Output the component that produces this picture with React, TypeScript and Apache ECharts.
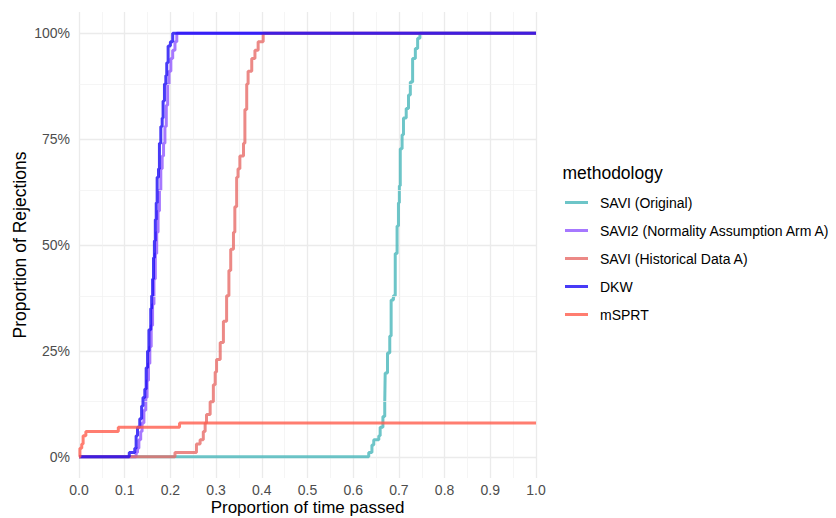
import React, { useEffect, useRef } from "react";
import * as echarts from "echarts";

// ---- data ----
const seriesNames = [
  "SAVI (Original)",
  "SAVI2 (Normality Assumption Arm A)",
  "SAVI (Historical Data A)",
  "DKW",
  "mSPRT",
];
const seriesColors = ["#48B7BA", "#9056FF", "#E76B68", "#1A0AF5", "#FF5C4C"];

const xTicks = [0, 0.1, 0.2, 0.3, 0.4, 0.5, 0.6, 0.7, 0.8, 0.9, 1.0];
const yTicks = [0, 0.25, 0.5, 0.75, 1];
const yMinorGrid = [0.125, 0.375, 0.625, 0.875];

// SAVI (Original)
const saviOriginalX = [0, 0.634, 0.641, 0.645, 0.656, 0.659, 0.665, 0.669, 0.67, 0.675, 0.68, 0.683, 0.688, 0.692, 0.696, 0.699, 0.701, 0.703, 0.707, 0.71, 0.716, 0.721, 0.725, 0.73, 0.736, 0.741, 0.746, 1.0];
const saviOriginalY = [0, 0.01, 0.028, 0.04, 0.05, 0.07, 0.095, 0.126, 0.198, 0.245, 0.285, 0.37, 0.38, 0.48, 0.545, 0.6, 0.64, 0.727, 0.76, 0.8, 0.822, 0.854, 0.885, 0.94, 0.964, 0.988, 1.0, 1.0];

// SAVI2 (Normality Assumption Arm A)
const savi2X = [0, 0.125, 0.128, 0.131, 0.135, 0.138, 0.142, 0.146, 0.149, 0.152, 0.155, 0.158, 0.161, 0.164, 0.167, 0.17, 0.173, 0.176, 0.179, 0.182, 0.185, 0.188, 0.191, 0.194, 0.197, 0.201, 0.205, 0.21, 0.214, 1.0];
const savi2Y = [0, 0.01, 0.02, 0.04, 0.06, 0.08, 0.11, 0.14, 0.18, 0.22, 0.26, 0.31, 0.36, 0.42, 0.48, 0.53, 0.58, 0.63, 0.68, 0.71, 0.74, 0.78, 0.83, 0.88, 0.91, 0.94, 0.96, 0.98, 1.0, 1.0];

// SAVI (Historical Data A)
const historicalX = [0, 0.21, 0.257, 0.265, 0.272, 0.276, 0.279, 0.287, 0.294, 0.298, 0.301, 0.309, 0.316, 0.323, 0.328, 0.332, 0.338, 0.341, 0.345, 0.348, 0.352, 0.36, 0.363, 0.367, 0.37, 0.378, 0.385, 0.392, 0.403, 1.0];
const historicalY = [0, 0.01, 0.03, 0.04, 0.06, 0.08, 0.1, 0.13, 0.17, 0.2, 0.23, 0.27, 0.32, 0.38, 0.44, 0.49, 0.53, 0.59, 0.66, 0.68, 0.71, 0.74, 0.82, 0.88, 0.91, 0.94, 0.96, 0.98, 1.0, 1.0];

// DKW
const dkwX = [0, 0.11, 0.122, 0.125, 0.128, 0.133, 0.137, 0.14, 0.144, 0.147, 0.15, 0.153, 0.157, 0.159, 0.161, 0.163, 0.165, 0.167, 0.169, 0.171, 0.174, 0.176, 0.179, 0.182, 0.184, 0.187, 0.19, 0.192, 0.195, 0.2, 0.205, 1.0];
const dkwY = [0, 0.01, 0.02, 0.05, 0.07, 0.09, 0.12, 0.14, 0.16, 0.21, 0.25, 0.3, 0.35, 0.38, 0.42, 0.47, 0.51, 0.56, 0.6, 0.66, 0.68, 0.74, 0.78, 0.8, 0.84, 0.88, 0.9, 0.93, 0.97, 0.98, 1.0, 1.0];

// mSPRT
const msprtX = [0, 0.002, 0.006, 0.009, 0.015, 0.086, 0.22, 1.0];
const msprtY = [0, 0.02, 0.03, 0.05, 0.06, 0.07, 0.08, 0.08];

const seriesX = [saviOriginalX, savi2X, historicalX, dkwX, msprtX];
const seriesY = [saviOriginalY, savi2Y, historicalY, dkwY, msprtY];

const FONT = "'Liberation Sans', Arial, Helvetica, sans-serif";

export default function App() {
  const ref = useRef<HTMLDivElement>(null);

  useEffect(() => {
    if (!ref.current) return;
    const chart = echarts.init(ref.current, undefined, { renderer: "svg" });

    const dataSeries = seriesNames.map((name, i) => ({
      name,
      type: "line",
      step: "end",
      showSymbol: false,
      symbol: "none",
      z: 3 + i,
      data: seriesX[i].map((x, j) => [x, seriesY[i][j]]),
      lineStyle: { color: seriesColors[i], width: 3, opacity: 0.8 },
      itemStyle: { color: seriesColors[i], opacity: 0.8 },
      emphasis: { disabled: true },
    }));

    const option = {
      animation: false,
      textStyle: { fontFamily: FONT },
      grid: { left: 79, right: 300, top: 12, bottom: 40, containLabel: false, outerBoundsMode: "none" },
      xAxis: {
        type: "value",
        min: 0,
        max: 1,
        interval: 0.1,
        name: "Proportion of time passed",
        nameLocation: "middle",
        nameGap: 21,
        nameMoveOverlap: false,
        nameTextStyle: { fontSize: 17, color: "#000000", fontFamily: FONT, verticalAlign: "top" },
        axisLine: { show: false },
        axisTick: { show: false },
        axisLabel: {
          color: "#4D4D4D",
          fontSize: 14,
          margin: 5,
          fontFamily: FONT,
          formatter: (v: number) => v.toFixed(1),
          customValues: xTicks,
        },
        splitLine: { show: true, lineStyle: { color: "#EBEBEB", width: 1.3 } },
        minorTick: { show: false, splitNumber: 2 },
        minorSplitLine: { show: true, lineStyle: { color: "#F0F0F0", width: 0.7 } },
      },
      yAxis: {
        type: "value",
        min: -0.05,
        max: 1.05,
        name: "Proportion of Rejections",
        nameLocation: "middle",
        nameGap: 50,
        nameMoveOverlap: false,
        nameTextStyle: { fontSize: 17.5, color: "#000000", fontFamily: FONT },
        axisLine: { show: false },
        axisTick: { show: false, customValues: yTicks },
        axisLabel: {
          color: "#4D4D4D",
          fontSize: 14,
          margin: 9,
          fontFamily: FONT,
          customValues: yTicks,
          formatter: (v: number) => Math.round(v * 100) + "%",
        },
        splitLine: { show: true, lineStyle: { color: "#EBEBEB", width: 1.3 } },
      },
      legend: {
        orient: "vertical",
        left: 565,
        top: 195.5,
        padding: 0,
        icon: "rect",
        itemWidth: 23,
        itemHeight: 3,
        itemGap: 14,
        data: seriesNames,
        textStyle: { fontSize: 14, color: "#000000", fontFamily: FONT, lineHeight: 14, padding: [0, 0, 0, 7] },
        selectedMode: false,
      },
      graphic: [
        {
          type: "text",
          left: 562.5,
          top: 164,
          style: { text: "methodology", font: `17.5px ${FONT}`, fill: "#000000" },
        },
      ],
      series: [
        {
          type: "line",
          data: [],
          z: 1,
          silent: true,
          markLine: {
            silent: true,
            symbol: ["none", "none"],
            label: { show: false },
            emphasis: { disabled: true },
            lineStyle: { color: "#F0F0F0", width: 0.7, type: "solid" },
            data: yMinorGrid.map((v) => ({ yAxis: v })),
          },
        },
        ...dataSeries,
      ],
    };

    chart.setOption(option as any);
    return () => chart.dispose();
  }, []);

  return (
    <div
      ref={ref}
      style={{ position: "fixed", left: 0, top: 0, width: 836, height: 518, background: "#ffffff" }}
    />
  );
}
